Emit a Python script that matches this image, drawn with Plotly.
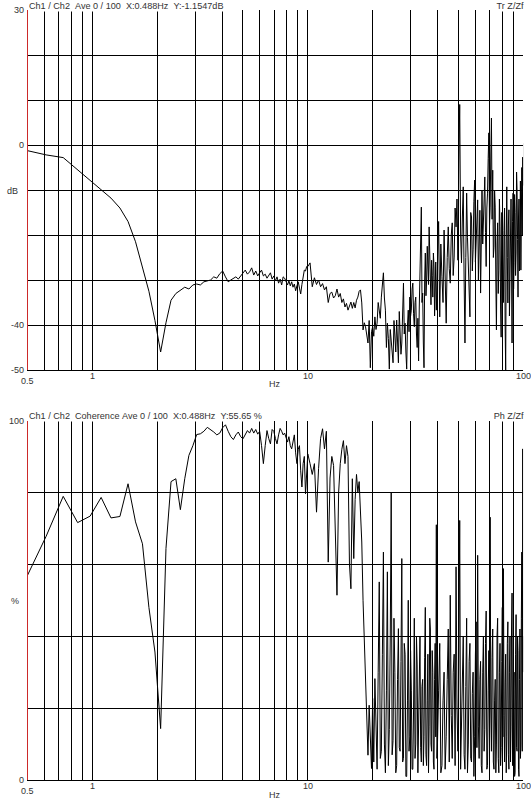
import math
import plotly.graph_objects as go

# ---------------- data ----------------
DF = 0.1220703125  # FFT bin width (Hz)
bins = (list(range(4, 82)) + list(range(82, 164, 2)) +
        list(range(164, 328, 2)) + list(range(328, 825, 4)))
freq_hz = [b * DF for b in bins]

# Transfer function magnitude (dB)
db_low = [-1.15, -2.2, -2.8, -5.5, -8.0, -10.0, -11.8, -14.0, -17.0, -21.5,
          -27.0, -32.5, -39.0, -46.0, -39.5, -34.5, -33.0, -32.2, -31.6, -32.0,
          -31.1, -30.9, -31.1, -30.4, -30.2, -30.0, -29.3, -29.6, -28.6, -28.0,
          -29.3, -30.4, -30.0, -29.6, -29.3, -29.8, -29.1, -28.2, -27.8, -28.7,
          -28.2, -27.3, -28.9, -28.0, -29.1, -28.4, -27.8, -29.1, -28.7, -29.6,
          -28.9, -28.4, -29.8, -29.1, -30.2, -29.3, -30.7, -29.8, -31.1, -29.3,
          -29.6, -30.4, -31.1, -30.2, -31.3, -30.4, -31.6, -30.9, -32.4, -31.3,
          -30.4, -31.8, -33.1, -31.0, -29.0, -27.8, -28.0, -27.0]
db_mid = [-27.0, -26.2, -31.5, -29.5, -31.0, -30.0, -31.5, -30.8, -32.2, -31.5,
          -35.0, -33.0, -32.7, -34.0, -33.5, -32.0, -33.8, -33.0, -35.0, -34.2,
          -36.0, -35.2, -36.7, -35.5, -34.9, -36.3, -35.0, -36.2, -34.5, -33.8,
          -32.5, -32.2, -35.1, -41.1, -39.5, -40.4, -41.8, -44.0, -39.0, -49.5,
          -41.5]
db_high1 = [-40.4, -42.5, -38.2, -41.0, -39.6, -35.0, -36.7, -38.5, -33.8, -31.0,
            -28.4, -34.0, -36.7, -45.0, -39.6, -43.0, -49.8, -41.0, -44.0, -47.5,
            -48.4, -39.0, -42.0, -46.0, -38.9, -44.5, -48.4, -37.0, -40.4, -46.5,
            -44.0, -35.5, -30.7, -42.0, -39.6, -46.0, -49.8, -40.0, -36.7, -41.5,
            -33.8, -38.0, -36.7, -32.0, -30.7, -37.5, -40.4, -35.0, -33.8, -42.0,
            -45.0, -38.5, -48.0, -36.0, -29.3, -22.0, -13.8, -35.0, -32.9, -44.0,
            -49.5, -30.0, -24.0, -33.5, -30.0, -22.5, -27.1, -31.0, -18.2, -28.0,
            -30.0, -35.5, -25.6, -29.0, -33.8, -24.0, -27.1, -38.0, -33.0, -26.0,
            -36.7, -30.5]
db_high2 = [-24.9, -17.0, -38.2, -22.0, -29.3, -35.0, -18.9, -28.0, -39.6, -25.0,
            -18.2, -27.5, -30.7, -20.0, -17.3, -29.0, -24.9, -14.0, -18.2, -12.0,
            -25.6, -4.0, 9.0, -20.0, -26.2, -16.0, -9.3, -30.0, -44.0, -25.0,
            -10.7, -20.5, -26.2, -32.0, -38.2, -15.0, -16.0, -28.0, -23.3, -12.5,
            -7.8, -26.0, -21.8, -17.0, -12.2, -30.0, -20.4, -14.5, -32.9, -24.0,
            -10.0, -22.0, -17.3, -12.0, -7.1, -19.5, -27.0, -14.0, -10.7, -3.0,
            2.7, -18.0, -13.8, -2.0, 6.0, -16.5, -5.6, -25.0, -22.7, -10.0,
            -13.8, -30.0, -41.1, -22.0, -17.3, -33.0, -27.8, -12.0, -18.2, -36.0,
            -42.7, -15.0, -20.4, -28.5, -35.0, -19.0, -14.0, -40.0, -50.0, -22.0,
            -9.3, -25.0, -35.1, -18.0, -14.4, -38.0, -30.0, -16.5, -12.0, -26.0,
            -44.0, -17.0, -10.7, -32.0, -26.2, -11.0, -15.0, -29.0, -24.0, -6.0,
            -10.0, -21.0, -33.8, -16.0, -12.0, -28.0, -18.2, -8.0, -27.8, -14.0,
            -5.0, -20.0, -2.7, -9.0, 0.4]
tf_db = db_low + db_mid + db_high1 + db_high2

# Coherence (%)
coh_low = [55.65, 67.8, 78.9, 71.6, 73.4, 78.6, 72.9, 73.3, 82.4, 71.8,
           65.7, 48.0, 35.6, 14.3, 64.4, 83.0, 83.8, 75.2, 83.8, 90.3,
           93.0, 96.1, 96.3, 97.0, 98.1, 97.5, 96.8, 96.0, 96.5, 98.0,
           98.8, 97.0, 95.5, 94.7, 96.0, 96.8, 95.5, 94.9, 96.0, 97.2,
           96.5, 97.8, 96.5, 97.5, 96.2, 97.0, 93.0, 88.0, 93.0, 97.2,
           95.0, 93.5, 97.5, 97.0, 95.0, 93.5, 96.0, 97.8, 97.0, 96.0,
           96.5, 95.0, 94.0, 95.5, 93.0, 92.1, 94.5, 96.0, 91.0, 88.0,
           92.0, 93.0, 86.0, 81.5, 88.0, 90.0, 79.6, 86.0]
coh_mid = [90.7, 88.0, 85.0, 88.0, 74.5, 86.6, 95.0, 97.7, 92.1, 97.0,
           60.6, 84.0, 90.0, 87.5, 70.0, 51.4, 80.0, 88.0, 92.0, 94.4,
           88.0, 93.0, 90.0, 60.0, 53.2, 83.8, 61.6, 78.0, 85.0, 80.0,
           83.0, 75.0, 66.2, 50.0, 38.0, 25.0, 15.0, 6.9, 20.8, 10.0,
           3.2]
coh_high1 = [22.7, 5.0, 28.2, 12.0, 3.0, 30.0, 55.1, 6.0, 8.0, 35.0,
             63.4, 10.0, 2.0, 25.0, 57.9, 4.0, 14.0, 40.0, 80.1, 7.0,
             11.0, 45.0, 30.0, 2.0, 4.0, 28.0, 42.1, 9.0, 8.0, 33.0,
             61.6, 5.0, 6.0, 38.0, 35.0, 1.0, 1.0, 22.0, 50.0, 8.0,
             12.0, 36.0, 25.0, 3.0, 3.0, 20.0, 45.0, 6.0, 10.0, 40.0,
             32.0, 2.0, 18.0, 30.0, 40.0, 9.0, 5.0, 26.0, 28.0, 4.0,
             12.0, 34.0, 48.0, 7.0, 4.0, 22.0, 35.0, 2.0, 15.0, 45.0,
             42.0, 10.0, 8.0, 36.0, 30.0, 5.0, 3.0, 28.0, 38.0, 12.0,
             71.0, 6.0]
coh_high2 = [10.0, 25.0, 38.0, 2.0, 4.0, 22.0, 30.0, 3.0, 12.0, 28.0,
             42.0, 5.0, 51.4, 18.0, 6.0, 30.0, 35.0, 4.0, 59.3, 20.0,
             8.0, 32.0, 72.2, 3.0, 15.0, 36.0, 40.0, 7.0, 3.0, 26.0,
             45.0, 2.0, 10.0, 33.0, 38.0, 6.0, 5.0, 24.0, 30.0, 1.0,
             12.0, 35.0, 44.0, 9.0, 62.5, 15.0, 6.0, 28.0, 33.0, 4.0,
             2.0, 30.0, 40.0, 8.0, 14.0, 38.0, 47.0, 3.0, 4.0, 25.0,
             36.0, 10.0, 73.1, 20.0, 8.0, 34.0, 42.0, 5.0, 3.0, 22.0,
             28.0, 2.0, 10.0, 40.0, 45.0, 6.0, 2.0, 30.0, 38.0, 4.0,
             9.0, 33.0, 48.0, 12.0, 58.8, 18.0, 5.0, 27.0, 35.0, 2.0,
             12.0, 38.0, 44.0, 7.0, 3.0, 30.0, 40.0, 5.0, 15.0, 42.0,
             52.0, 4.0, 6.0, 25.0, 30.0, 1.0, 2.0, 35.0, 46.0, 9.0,
             8.0, 40.0, 36.0, 3.0, 1.0, 28.0, 42.0, 6.0, 10.0, 45.0,
             63.4, 8.0, 92.1, 30.0, 40.0]
coherence_pct = coh_low + coh_mid + coh_high1 + coh_high2

x_grid = [0.5, 0.6, 0.7, 0.8, 0.9, 1, 2, 3, 4, 5, 6, 7, 8, 9,
          10, 20, 30, 40, 50, 60, 70, 80, 90, 100]
x_labels = ["0.5", "1", "10", "100"]
db_grid = [-50, -40, -30, -20, -10, 0, 10, 20, 30]
db_labels = ["30", "0", "-40", "-50"]
pct_grid = [0, 20, 40, 60, 80, 100]
pct_labels = ["100", "0"]

top_title = "Ch1 / Ch2  Ave 0 / 100  X:0.488Hz  Y:-1.1547dB"
top_right = "Tr Z/Zf"
bot_title = "Ch1 / Ch2  Coherence Ave 0 / 100  X:0.488Hz  Y:55.65 %"
bot_right = "Ph Z/Zf"

# ---------------- layout ----------------
W, H = 531, 803
X0, X1 = 27.5, 523.1
TOP_Y0, TOP_Y1 = 10, 370
BOT_Y0, BOT_Y1 = 420.5, 780
FONT = "Liberation Sans, Arial, sans-serif"
TXT = "#333333"
GRID_W = 1


def py(p):
    return 1 - p / H


def nb(s):
    return s.replace(" ", "\u00a0")


fig = go.Figure()
fig.add_trace(go.Scatter(x=freq_hz, y=tf_db, mode="lines",
                         line=dict(color="black", width=1),
                         xaxis="x", yaxis="y", showlegend=False, hoverinfo="skip"))
fig.add_trace(go.Scatter(x=freq_hz, y=coherence_pct, mode="lines",
                         line=dict(color="black", width=1),
                         xaxis="x2", yaxis="y2", showlegend=False, hoverinfo="skip"))

xcommon = dict(type="log", range=[math.log10(0.5), 2], domain=[X0 / W, X1 / W],
               tickvals=x_grid, showticklabels=False, ticks="",
               showgrid=True, gridcolor="black", gridwidth=GRID_W,
               showline=True, linecolor="black", linewidth=GRID_W, zeroline=False)
ycommon = dict(showticklabels=False, ticks="", showgrid=True, gridcolor="black",
               gridwidth=GRID_W, showline=True, linecolor="#cc2a2a", linewidth=1,
               zeroline=False)

fig.update_layout(
    width=W, height=H, margin=dict(l=0, r=0, t=0, b=0),
    paper_bgcolor="white", plot_bgcolor="white",
    xaxis=dict(anchor="y", **xcommon),
    yaxis=dict(anchor="x", range=[-50, 30], tickvals=db_grid,
               domain=[py(TOP_Y1), py(TOP_Y0)], **ycommon),
    xaxis2=dict(anchor="y2", **xcommon),
    yaxis2=dict(anchor="x2", range=[0, 100], tickvals=pct_grid,
                domain=[py(BOT_Y1), py(BOT_Y0)], **ycommon),
    font=dict(family=FONT, size=9, color=TXT),
)

ann = []
HF = 9.1
# headers with white background hiding the top border
ann.append(dict(text=nb(top_title), xref="paper", yref="paper", x=X0 / W, y=py(6),
                xanchor="left", yanchor="middle", showarrow=False, bgcolor="white",
                width=205, align="left", borderpad=0, font=dict(size=HF)))
ann.append(dict(text=nb(top_right), xref="paper", yref="paper", x=525 / W, y=py(6),
                xanchor="right", yanchor="middle", showarrow=False, bgcolor="white",
                width=32, align="right", borderpad=0, font=dict(size=HF)))
ann.append(dict(text=nb(bot_title), xref="paper", yref="paper", x=X0 / W, y=py(416),
                xanchor="left", yanchor="middle", showarrow=False, bgcolor="white",
                width=244, align="left", borderpad=0, font=dict(size=HF)))
ann.append(dict(text=nb(bot_right), xref="paper", yref="paper", x=525 / W, y=py(416),
                xanchor="right", yanchor="middle", showarrow=False, bgcolor="white",
                width=33, align="right", borderpad=0, font=dict(size=HF)))

# x tick labels
for xref, base in (("x", 370), ("x2", 780)):
    for lab in x_labels:
        v = float(lab)
        dy = 10.5 if lab == "0.5" else 6
        ann.append(dict(text=lab, xref=xref, yref="paper", x=math.log10(v),
                        y=py(base + dy), xanchor="center", yanchor="middle",
                        showarrow=False))
    ann.append(dict(text="Hz", xref="paper", yref="paper", x=275 / W,
                    y=py(base + 14 if base == 370 else base + 15),
                    xanchor="center", yanchor="middle", showarrow=False))

# y tick labels
for lab in db_labels:
    ann.append(dict(text=lab, xref="paper", yref="y", x=26 / W, y=float(lab),
                    xanchor="right", yanchor="middle", showarrow=False))
ann.append(dict(text="dB", xref="paper", yref="paper", x=12 / W, y=py(191),
                xanchor="center", yanchor="middle", showarrow=False))
for lab in pct_labels:
    ann.append(dict(text=lab, xref="paper", yref="y2", x=26 / W, y=float(lab),
                    xanchor="right", yanchor="middle", showarrow=False))
ann.append(dict(text="%", xref="paper", yref="paper", x=15 / W, y=py(601),
                xanchor="center", yanchor="middle", showarrow=False))

fig.update_layout(annotations=ann)
fig.write_html("out.html")
